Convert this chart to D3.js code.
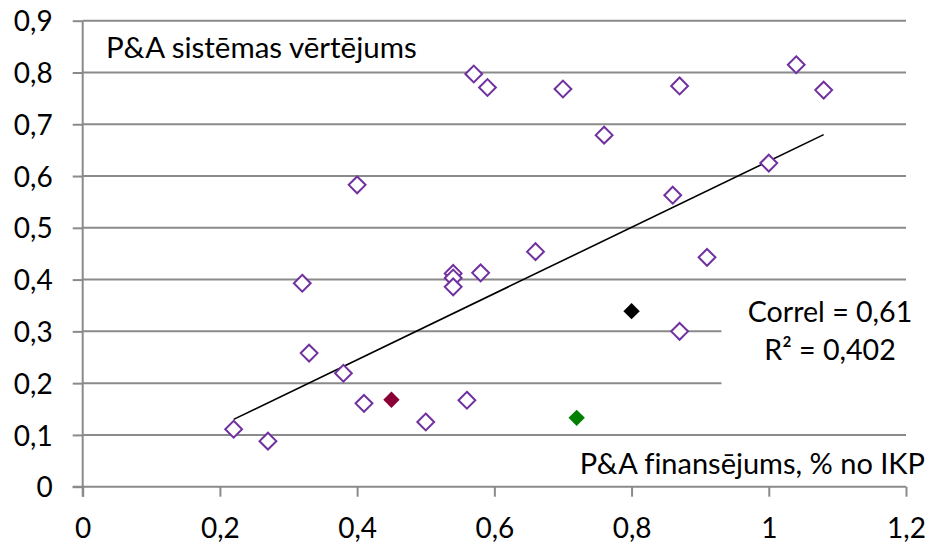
<!DOCTYPE html>
<html><head><meta charset="utf-8">
<script src="https://cdn.jsdelivr.net/npm/d3@7"></script>
<style>
html,body{margin:0;padding:0;background:#fff;}
svg text{font-family:Lato,"Open Sans",sans-serif;fill:#000;font-variant-ligatures:none;}
</style></head>
<body><svg id="c" width="930" height="543"></svg>
<script>
// Data
const xValues = [0.22,0.27,0.32,0.33,0.38,0.41,0.50,0.56,0.54,0.54,0.54,0.58,0.40,0.57,0.59,0.70,0.76,0.87,1.04,1.08,1.00,0.86,0.66,0.91,0.87];
const yValues = [0.111,0.088,0.393,0.258,0.219,0.161,0.125,0.167,0.412,0.403,0.386,0.413,0.583,0.797,0.771,0.768,0.679,0.774,0.815,0.766,0.625,0.563,0.454,0.443,0.300];
const highlightNames = ["dark red","black","green"];
const highlightX = [0.45,0.80,0.72];
const highlightY = [0.168,0.339,0.133];
const highlightColors = ["#8B0034","#000000","#008000"];
const trendX = [0.22,1.08];
const trendY = [0.130,0.680];
const xTicks = [0,0.2,0.4,0.6,0.8,1.0,1.2];
const yTicks = [0,0.1,0.2,0.3,0.4,0.5,0.6,0.7,0.8,0.9];
const yTitle = "P&A sistēmas vērtējums";
const xTitle = "P&A finansējums, % no IKP";
const statLines = ["Correl = 0,61","R² = 0,402"];

const svg = d3.select("#c");
const x = d3.scaleLinear().domain([0,1.2]).range([82.7,906]);
const y = d3.scaleLinear().domain([0,0.9]).range([486.7,20.7]);
const fmt = v => String(+v.toFixed(1)).replace(".", ",");
const gridColor = "#8a8a8a";

// gridlines
svg.append("g").selectAll("line").data(yTicks.filter(d=>d>0)).join("line")
  .attr("x1", x(0)).attr("x2", x(1.2))
  .attr("y1", d=>y(d)).attr("y2", d=>y(d))
  .attr("stroke", gridColor).attr("stroke-width", 2);

// stats box (white background hiding gridlines)
const boxG = svg.append("g");
boxG.append("rect").attr("x", x(0.931)).attr("y", y(0.37)).attr("width", x(1.2)-x(0.931)+4).attr("height", y(0.115)-y(0.37))
  .attr("fill","#fff");

// axes
const yAxis = d3.axisLeft(y).tickValues(yTicks).tickSize(10).tickFormat(fmt);
const xAxis = d3.axisBottom(x).tickValues(xTicks).tickSize(10).tickFormat(fmt);
const gy = svg.append("g").attr("transform",`translate(${x(0)},0)`).call(yAxis);
const gx = svg.append("g").attr("transform",`translate(0,${y(0)})`).call(xAxis);
[gx,gy].forEach(g=>{
  g.select(".domain").attr("stroke",gridColor).attr("stroke-width",2);
  g.selectAll(".tick line").attr("stroke",gridColor).attr("stroke-width",2);
  g.selectAll("text").attr("font-size",28).attr("font-family","Lato").attr("fill","#000");
});
gy.select(".domain").attr("d", `M0,${y(0.9)}V${y(0)+10}`);
gx.select(".domain").attr("d", `M${x(0)-10},0H${x(1.2)}`);
gy.selectAll("text").attr("x",-30).attr("dy","0.36em");
gx.selectAll("text").attr("y",31).attr("dy","0.71em");

// trendline
svg.append("path")
  .datum(trendX.map((d,i)=>[d,trendY[i]]))
  .attr("d", d3.line().x(d=>x(d[0])).y(d=>y(d[1])))
  .attr("stroke","#000").attr("stroke-width",1.6).attr("fill","none");

// diamonds
const diamond = d3.symbol().type(d3.symbolDiamond2).size(180);
svg.append("g").selectAll("path").data(xValues.map((d,i)=>[d,yValues[i]])).join("path")
  .attr("d", diamond)
  .attr("transform", d=>`translate(${x(d[0])},${y(d[1])})`)
  .attr("fill","#fff").attr("stroke","#7030A0").attr("stroke-width",2);
svg.append("g").selectAll("path").data(highlightX.map((d,i)=>[d,highlightY[i],highlightColors[i]])).join("path")
  .attr("d", d3.symbol().type(d3.symbolDiamond2).size(170))
  .attr("transform", d=>`translate(${x(d[0])},${y(d[1])})`)
  .attr("fill",d=>d[2]);

// texts
svg.append("text").attr("x",106).attr("y",58).attr("font-size",29.5).text(yTitle);
svg.append("text").attr("x",925).attr("y",474).attr("text-anchor","end").attr("font-size",29).text(xTitle);
boxG.selectAll("text").data(statLines).join("text")
  .attr("x",830).attr("y",(d,i)=>321.5+i*38.5).attr("text-anchor","middle").attr("font-size",28.6).text(d=>d);
</script></body></html>
